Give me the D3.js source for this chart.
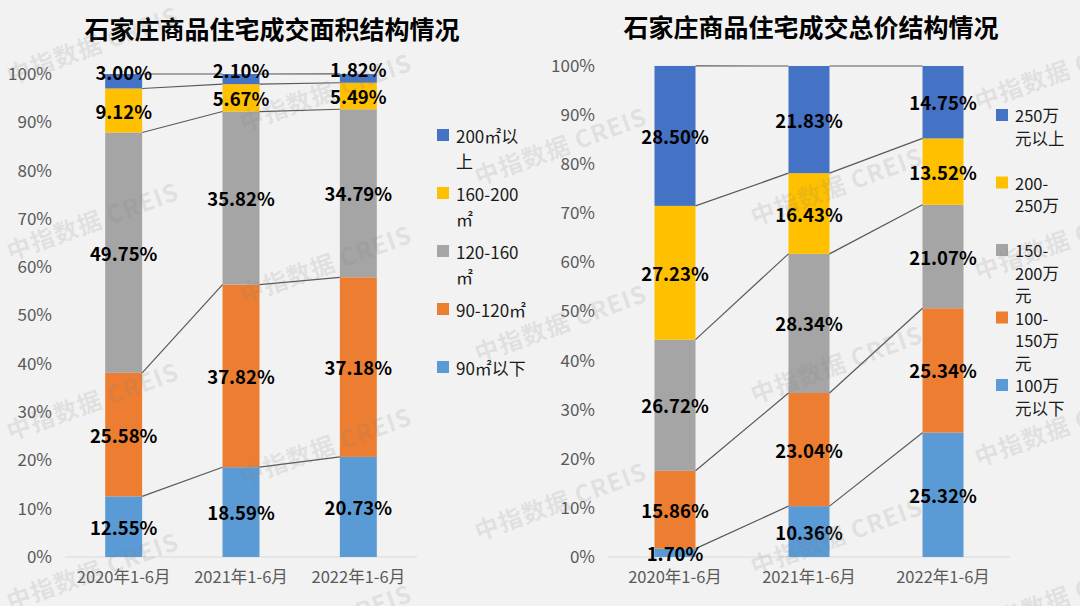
<!DOCTYPE html>
<html><head><meta charset="utf-8">
<script src="https://cdn.jsdelivr.net/npm/d3@7/dist/d3.min.js"></script>
<style>
html,body{margin:0;padding:0;background:#f2f2f2;}
svg{display:block;font-family:"Noto Sans CJK SC","Noto Sans",sans-serif;}
</style></head>
<body>
<svg id="chart" width="1080" height="606"></svg>
<script>
// ---------- DATA ----------
const categories = ["2020年1-6月", "2021年1-6月", "2022年1-6月"];
const yTicks = [0, 10, 20, 30, 40, 50, 60, 70, 80, 90, 100];

// Left chart: area structure (bottom -> top)
const areaTitle = "石家庄商品住宅成交面积结构情况";
const areaSeries = ["90㎡以下", "90-120㎡", "120-160㎡", "160-200㎡", "200㎡以上"];
const areaLegendLines = [["90㎡以下"], ["90-120㎡"], ["120-160", "㎡"], ["160-200", "㎡"], ["200㎡以", "上"]];
const area90Below = [12.55, 18.59, 20.73];
const area90to120 = [25.58, 37.82, 37.18];
const area120to160 = [49.75, 35.82, 34.79];
const area160to200 = [9.12, 5.67, 5.49];
const area200Above = [3.00, 2.10, 1.82];

// Right chart: total price structure (bottom -> top)
const priceTitle = "石家庄商品住宅成交总价结构情况";
const priceSeries = ["100万元以下", "100-150万元", "150-200万元", "200-250万", "250万元以上"];
const priceLegendLines = [["100万", "元以下"], ["100-", "150万", "元"], ["150-", "200万", "元"], ["200-", "250万"], ["250万", "元以上"]];
const price100Below = [1.70, 10.36, 25.32];
const price100to150 = [15.86, 23.04, 25.34];
const price150to200 = [26.72, 28.34, 21.07];
const price200to250 = [27.23, 16.43, 13.52];
const price250Above = [28.50, 21.83, 14.75];

const seriesColors = ["#5B9BD5", "#ED7D31", "#A5A5A5", "#FFC000", "#4472C4"];
const watermarkText = "中指数据 CREIS";

// ---------- DRAW ----------
const svg = d3.select("#chart");
svg.append("rect").attr("width", 1080).attr("height", 606).attr("fill", "#f2f2f2");

function buildRows(seriesNames, valueArrays) {
  return categories.map((c, i) => {
    const r = { cat: c };
    seriesNames.forEach((s, k) => r[s] = valueArrays[k][i]);
    return r;
  });
}

function drawChart(cfg) {
  const g = svg.append("g");
  const rows = buildRows(cfg.series, cfg.values);
  const x = d3.scaleBand().domain(categories).range([cfg.x0, cfg.x1]).padding(0);
  const barW = x.bandwidth() * cfg.barRatio;
  const y = d3.scaleLinear().domain([0, 100]).range([cfg.yBottom, cfg.yTop]);
  const color = d3.scaleOrdinal().domain(cfg.series).range(seriesColors);
  const stack = d3.stack().keys(cfg.series)(rows);
  const bx = c => x(c) + (x.bandwidth() - barW) / 2;

  // title
  g.append("text").attr("x", cfg.titleX).attr("y", cfg.titleY)
    .attr("text-anchor", "middle").attr("dominant-baseline", "central")
    .attr("font-size", 25).attr("font-weight", "bold").attr("fill", "#000")
    .text(cfg.title);

  // y axis
  const ax = g.append("g").attr("transform", `translate(${cfg.x0},0)`)
    .call(d3.axisLeft(y).tickValues(yTicks).tickFormat(d => d + "%").tickSize(0).tickPadding(cfg.tickPad));
  ax.select(".domain").remove();
  ax.selectAll("text").attr("font-size", 17).attr("fill", "#595959")
    .attr("font-family", '"Noto Sans CJK SC","Noto Sans",sans-serif');

  // baseline
  g.append("line").attr("x1", cfg.x0).attr("x2", cfg.x1)
    .attr("y1", y(0)).attr("y2", y(0)).attr("stroke", "#d9d9d9").attr("stroke-width", 1);

  // x axis labels
  const xa = g.append("g").attr("transform", `translate(0,${y(0)})`)
    .call(d3.axisBottom(x).tickSize(0).tickPadding(14));
  xa.select(".domain").remove();
  xa.selectAll("text").attr("font-size", 16.5).attr("fill", "#595959")
    .attr("font-family", '"Noto Sans CJK SC","Noto Sans",sans-serif');

  // bars
  stack.forEach(layer => {
    g.append("g").selectAll("rect").data(layer).join("rect")
      .attr("x", d => bx(d.data.cat))
      .attr("width", barW)
      .attr("y", d => y(d[1]))
      .attr("height", d => Math.max(0, y(d[0]) - y(d[1])))
      .attr("fill", color(layer.key));
  });

  // series lines
  const lineG = g.append("g").attr("stroke", "#595959").attr("stroke-width", 1.2).attr("fill", "none");
  stack.forEach(layer => {
    for (let i = 0; i < layer.length - 1; i++) {
      const a = layer[i], b = layer[i + 1];
      lineG.append("line")
        .attr("x1", bx(a.data.cat) + barW).attr("y1", y(a[1]))
        .attr("x2", bx(b.data.cat)).attr("y2", y(b[1]));
    }
  });

  // data labels
  const lastKey = cfg.series[cfg.series.length - 1];
  stack.forEach(layer => {
    g.append("g").selectAll("text").data(layer).join("text")
      .attr("x", d => bx(d.data.cat) + barW / 2)
      .attr("y", d => {
        const v = d[1] - d[0];
        let yy = (y(d[0]) + y(d[1])) / 2;
        if (layer.key === lastKey && v < 4) yy -= 9;
        return yy;
      })
      .attr("text-anchor", "middle").attr("dominant-baseline", "central")
      .attr("font-size", 18.5).attr("font-weight", "bold").attr("fill", "#000")
      .text(d => (d[1] - d[0]).toFixed(2) + "%");
  });

  // legend (top series first)
  const lg = g.append("g");
  const order = cfg.series.map((s, k) => k).reverse();
  order.forEach((k, idx) => {
    const yy = cfg.legY + idx * cfg.legStep;
    lg.append("rect").attr("x", cfg.legX).attr("y", yy - 6).attr("width", 12).attr("height", 12)
      .attr("fill", color(cfg.series[k]));
    const t = lg.append("text").attr("x", cfg.legX + 19).attr("y", yy)
      .attr("font-size", cfg.legFont).attr("fill", "#1a1a1a").attr("dominant-baseline", "central");
    cfg.legendLines[k].forEach((ln, j) => {
      t.append("tspan").attr("x", cfg.legX + 19).attr("dy", j === 0 ? 0 : cfg.legLine).text(ln);
    });
  });
}

drawChart({
  title: areaTitle, titleX: 272, titleY: 28,
  series: areaSeries, legendLines: areaLegendLines,
  values: [area90Below, area90to120, area120to160, area160to200, area200Above],
  x0: 65, x1: 417, yTop: 74, yBottom: 557, barRatio: 0.315, tickPad: 13,
  legX: 437, legY: 135, legStep: 58, legLine: 25, legFont: 17
});

drawChart({
  title: priceTitle, titleX: 811, titleY: 26,
  series: priceSeries, legendLines: priceLegendLines,
  values: [price100Below, price100to150, price150to200, price200to250, price250Above],
  x0: 608, x1: 1010, yTop: 66, yBottom: 557, barRatio: 0.306, tickPad: 13,
  legX: 996, legY: 115, legStep: 67.5, legLine: 22.5, legFont: 16.5
});

// watermarks
const wmPos = [[92,44],[92,220],[92,400],[92,570],[325,91],[325,263],[325,445],[325,622],
  [560,145],[560,322],[560,500],[836,185],[836,363],[836,535],[1060,70],[1060,240],[1060,426],[1060,596]];
svg.append("g").selectAll("text").data(wmPos).join("text")
  .attr("transform", d => `translate(${d[0]},${d[1]}) rotate(-20)`)
  .attr("text-anchor", "middle").attr("dominant-baseline", "central")
  .attr("font-size", 24).attr("font-weight", "bold").attr("letter-spacing", 1)
  .attr("fill", "#7f7f7f").attr("fill-opacity", 0.16)
  .text(watermarkText);
</script>
</body></html>
